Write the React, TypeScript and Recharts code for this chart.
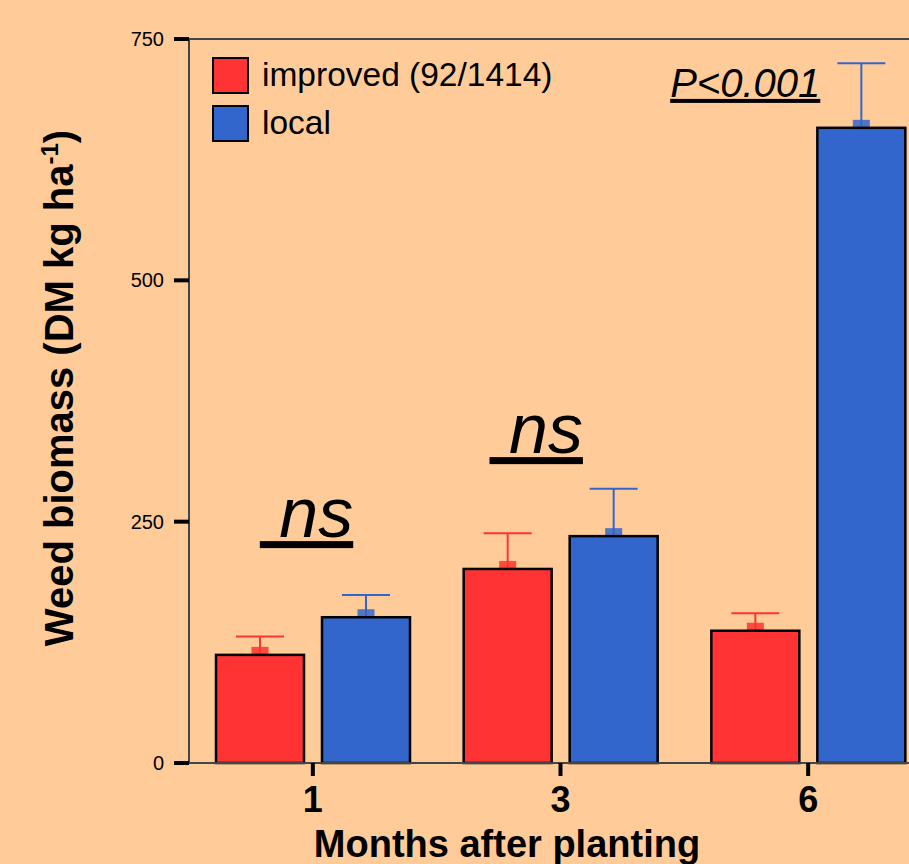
import { BarChart, Bar, XAxis, YAxis, ReferenceLine, ReferenceDot } from 'recharts';

// weed biomass per sampling month, mean and upper error (DM kg/ha)
const months = ['1', '3', '6'];
const improvedMean = [112, 201, 137];
const improvedErr = [19, 37, 18];
const localMean = [151, 235, 658];
const localErr = [23, 49, 67];
const yTicks = [0, 250, 500, 750];

const seriesNames = ['improved (92/1414)', 'local'];
const seriesColors = ['#FF3333', '#3366CC'];

// significance notes above each month group
const noteMonths = ['1', '3', '6'];
const noteLevels = [234, 321, 690];
const noteTexts = ['\u00A0ns', '\u00A0ns', 'P<0.001'];

const FONT = 'Arial, "Liberation Sans", Helvetica, sans-serif';
const noteStyle = [
  { size: 70, dx: -53 },
  { size: 70, dx: -71 },
  { size: 40, dx: -138 },
];

const data = months.map((m, i) => ({
  month: m,
  improved: improvedMean[i],
  improvedErr: improvedErr[i],
  local: localMean[i],
  localErr: localErr[i],
}));

function makeBarShape(key: string, errKey: string) {
  return (props: any) => {
    const { x, y, width, height, fill, payload } = props;
    const value = payload[key];
    const pxPerUnit = value ? height / value : 0;
    const capY = y - payload[errKey] * pxPerUnit;
    const cx = x + width / 2;
    return (
      <g>
        <line x1={cx} x2={cx} y1={y} y2={capY} stroke={fill} strokeWidth={2} />
        <line x1={cx - 24} x2={cx + 24} y1={capY} y2={capY} stroke={fill} strokeWidth={2} />
        <rect x={cx - 8.5} y={y - 8} width={17} height={8} fill={fill} fillOpacity={0.85} />
        <rect x={x} y={y} width={width} height={height} fill={fill} stroke="#000" strokeWidth={2.5} />
      </g>
    );
  };
}

function MonthTick({ x, y, payload }: any) {
  return (
    <text x={x} y={y} dy={34} textAnchor="middle" fontFamily={FONT} fontWeight="bold" fontSize={36} fill="#000">
      {payload.value}
    </text>
  );
}

function LegendBox() {
  return (
    <div style={{ position: 'absolute', left: 212, top: 51, fontFamily: FONT }}>
      {seriesNames.map((name, i) => (
        <div key={name} style={{ display: 'flex', alignItems: 'center', height: 48 }}>
          <div
            style={{
              width: 33,
              height: 33,
              background: seriesColors[i],
              border: '2px solid #000',
              marginRight: 13,
            }}
          />
          <span style={{ fontSize: 33.5, color: '#000', lineHeight: 1 }}>{name}</span>
        </div>
      ))}
    </div>
  );
}

export default function App() {
  return (
    <div
      style={{
        position: 'absolute',
        left: 0,
        top: 0,
        width: 909,
        height: 864,
        overflow: 'hidden',
        background: '#FFCC99',
      }}
    >
      <BarChart
        width={939}
        height={864}
        data={data}
        margin={{ top: 39, right: 7, left: 0, bottom: 0 }}
        barSize={88}
        barGap={18}
      >
        <XAxis
          dataKey="month"
          height={101}
          axisLine={{ stroke: '#444', strokeWidth: 2 }}
          tickLine={{ stroke: '#000', strokeWidth: 4 }}
          tickSize={13}
          tick={<MonthTick />}
        />
        <YAxis
          width={189}
          domain={[0, 750]}
          ticks={yTicks}
          axisLine={{ stroke: '#444', strokeWidth: 2 }}
          tickLine={{ stroke: '#000', strokeWidth: 4 }}
          tickSize={15}
          tickMargin={10}
          tick={{ fontSize: 20, fill: '#000', fontFamily: FONT }}
        />
        <ReferenceLine y={750} stroke="#444" strokeWidth={2} />
        <Bar
          dataKey="improved"
          name={seriesNames[0]}
          fill={seriesColors[0]}
          shape={makeBarShape('improved', 'improvedErr')}
          isAnimationActive={false}
        />
        <Bar
          dataKey="local"
          name={seriesNames[1]}
          fill={seriesColors[1]}
          shape={makeBarShape('local', 'localErr')}
          isAnimationActive={false}
        />
        {noteMonths.map((m, i) => (
          <ReferenceDot
            key={i}
            x={m}
            y={noteLevels[i]}
            shape={(p: any) => (
              <text
                x={p.cx + noteStyle[i].dx}
                y={p.cy}
                fontFamily={FONT}
                fontStyle="italic"
                fontSize={noteStyle[i].size}
                fill="#000"
                style={{ textDecoration: 'underline' }}
              >
                {noteTexts[i]}
              </text>
            )}
          />
        ))}
      </BarChart>
      <LegendBox />
      <svg
        width={909}
        height={864}
        style={{ position: 'absolute', left: 0, top: 0, pointerEvents: 'none' }}
      >
        <text
          transform="translate(73,388) rotate(-90)"
          textAnchor="middle"
          fontFamily={FONT}
          fontWeight="bold"
          fontSize={40}
          fill="#000"
        >
          Weed biomass (DM kg ha
          <tspan fontSize={24} dy={-15}>-1</tspan>
          <tspan dy={15}>)</tspan>
        </text>
        <text x={507} y={857} textAnchor="middle" fontFamily={FONT} fontWeight="bold" fontSize={38} fill="#000">
          Months after planting
        </text>
      </svg>
    </div>
  );
}
